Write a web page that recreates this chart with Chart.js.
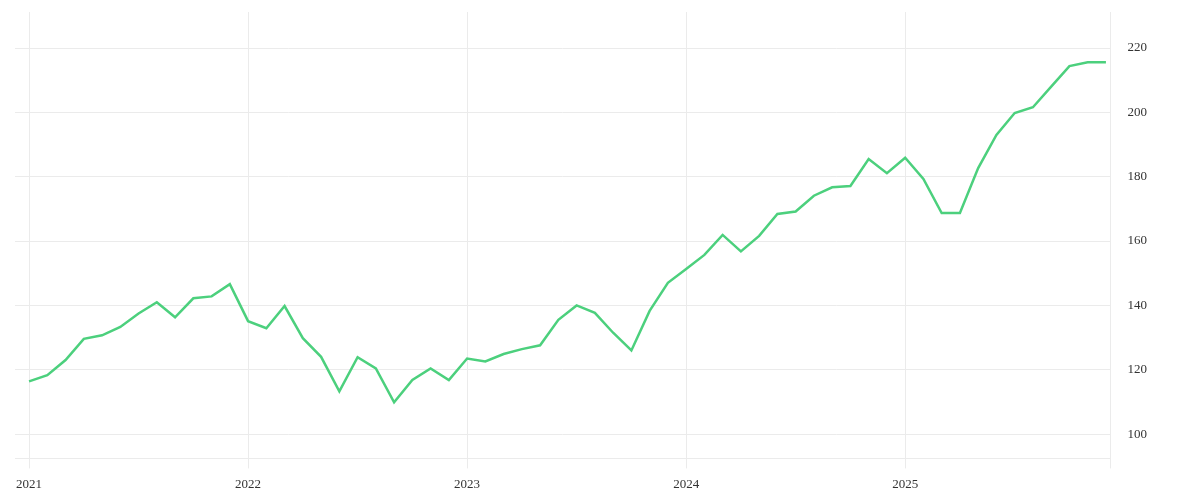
<!DOCTYPE html>
<html>
<head>
<meta charset="utf-8">
<script src="https://cdn.jsdelivr.net/npm/chart.js@4"></script>
<style>
  html, body { margin: 0; padding: 0; background: #fff; }
  #wrap { width: 1200px; height: 500px; }
</style>
</head>
<body>
<div id="wrap"><canvas id="priceChart"></canvas></div>
<script>
// monthly values, Jan 2021 .. Dec 2025
const months = [
  '2021-01','2021-02','2021-03','2021-04','2021-05','2021-06','2021-07','2021-08','2021-09','2021-10','2021-11','2021-12',
  '2022-01','2022-02','2022-03','2022-04','2022-05','2022-06','2022-07','2022-08','2022-09','2022-10','2022-11','2022-12',
  '2023-01','2023-02','2023-03','2023-04','2023-05','2023-06','2023-07','2023-08','2023-09','2023-10','2023-11','2023-12',
  '2024-01','2024-02','2024-03','2024-04','2024-05','2024-06','2024-07','2024-08','2024-09','2024-10','2024-11','2024-12',
  '2025-01','2025-02','2025-03','2025-04','2025-05','2025-06','2025-07','2025-08','2025-09','2025-10','2025-11','2025-12'
];
const values = [
  116.4, 118.3, 123.0, 129.6, 130.7, 133.3, 137.5, 141.0, 136.3, 142.2, 142.8, 146.6,
  135.1, 132.9, 139.8, 129.8, 124.0, 113.3, 123.9, 120.4, 109.9, 116.8, 120.4, 116.8,
  123.5, 122.6, 124.9, 126.4, 127.6, 135.5, 140.0, 137.7, 131.5, 126.0, 138.3, 147.0,
  151.3, 155.7, 161.9, 156.8, 161.6, 168.4, 169.2, 174.1, 176.7, 177.1, 185.5, 181.1,
  185.9, 179.3, 168.7, 168.7, 182.7, 193.0, 199.8, 201.6, 208.0, 214.4, 215.6, 215.6
];
const yearTicks = [0, 12, 24, 36, 48];
const yearLabels = ['2021', '2022', '2023', '2024', '2025'];
const yTicks = [100, 120, 140, 160, 180, 200, 220];

const xMin = -0.77;
const xMax = 59.25;

const points = values.map((v, i) => ({ x: i, y: v }));

const gridColor = '#ebebeb';
const textColor = '#333';
const font = { family: '"Liberation Serif", serif', size: 13 };

const ctx = document.getElementById('priceChart').getContext('2d');
new Chart(ctx, {
  type: 'line',
  data: {
    datasets: [{
      data: points,
      borderColor: '#4cd07d',
      borderWidth: 2.5,
      pointRadius: 0,
      tension: 0,
      fill: false
    }]
  },
  options: {
    responsive: true,
    maintainAspectRatio: false,
    animation: false,
    layout: { padding: { left: 15, top: 12, right: 36, bottom: 0 } },
    plugins: {
      legend: { display: false },
      tooltip: { enabled: false }
    },
    scales: {
      x: {
        type: 'linear',
        min: xMin,
        max: xMax,
        afterBuildTicks: (scale) => {
          scale.ticks = yearTicks.concat([xMax]).map(v => ({ value: v }));
        },
        grid: { color: gridColor, tickLength: 10, drawTicks: true },
        border: { color: gridColor },
        ticks: {
          autoSkip: false,
          maxRotation: 0,
          color: textColor,
          font: font,
          padding: 8,
          callback: (v) => {
            const k = yearTicks.indexOf(v);
            return k >= 0 ? yearLabels[k] : '';
          }
        }
      },
      y: {
        position: 'right',
        min: 92.44,
        max: 231.2,
        afterBuildTicks: (scale) => {
          scale.ticks = yTicks.map(v => ({ value: v }));
        },
        afterFit: (scale) => {
          scale.paddingTop = 0;
          scale.paddingBottom = 0;
        },
        grid: { color: gridColor, drawTicks: false },
        border: { color: gridColor },
        ticks: {
          color: textColor,
          font: font,
          padding: 17
        }
      }
    }
  }
});
</script>
</body>
</html>
